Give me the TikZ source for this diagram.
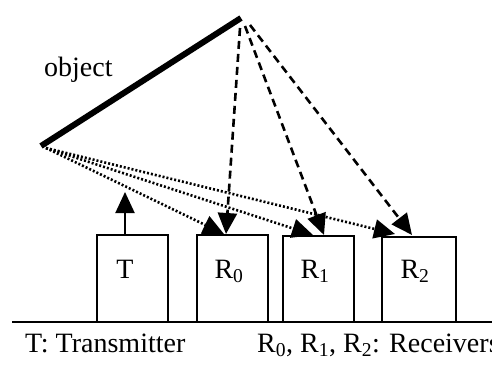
\documentclass[tikz,border=0pt]{standalone}
\usepackage{fontspec}
\setmainfont{Liberation Serif}
\usetikzlibrary{arrows.meta}
\begin{document}
\begin{tikzpicture}[x=1pt,y=-1pt,
  box/.style={draw,line width=2pt,minimum width=71pt,minimum height=87pt,inner sep=0pt},
  lab/.style={font=\fontsize{28}{32}\selectfont,inner sep=0pt,anchor=base},
  head/.style={-{Triangle[length=21pt,width=19pt]}},
  dashray/.style={head,line width=2.6pt,dash pattern=on 8pt off 5pt},
  dotray/.style={head,line width=2.6pt,dash pattern=on 2pt off 2pt},
  ground/.style={line width=2pt}]
\useasboundingbox (0,0) rectangle (492,377);
% object
\coordinate (apex) at (241,18);
\coordinate (foot) at (41,146);
\draw[line width=6pt] (foot) -- (apex);
\node[lab,anchor=base west] (objlab) at (44,77) {object};
% boxes
\node[box] (T) at (132.5,278.5) {};
\node[box] (R0) at (232.5,278.5) {};
\node[box,minimum height=86pt] (R1) at (318.5,279) {};
\node[box,minimum width=74pt,minimum height=85pt] (R2) at (419,279.5) {};
\node[lab] (Tl) at (125,278) {T};
\node[lab] (R0l) at (229,278) {R\textsubscript{0}};
\node[lab] (R1l) at (315,278) {R\textsubscript{1}};
\node[lab] (R2l) at (415,278) {R\textsubscript{2}};
% ground
\coordinate (gl) at (12,322);
\coordinate (gr) at (492,322);
\draw[ground] (gl) -- (gr);
% transmitter arrow
\coordinate (Ttop) at (125,235);
\coordinate (Ttip) at (125,192);
\draw[line width=2pt,head] (Ttop) -- (Ttip);
% reflection sources
\coordinate (d0) at (240,28);
\coordinate (d1) at (245,26);
\coordinate (d2) at (250,25);
\coordinate (s) at (46,148);
% targets
\coordinate (r0d) at (226,234);
\coordinate (r1d) at (324,235);
\coordinate (r2d) at (412,235);
\coordinate (r0s) at (224,234);
\coordinate (r1s) at (313,235);
\coordinate (r2s) at (395,234);
\draw[dashray] (d0) -- (r0d);
\draw[dashray] (d1) -- (r1d);
\draw[dashray] (d2) -- (r2d);
\draw[dotray] (s) -- (r0s);
\draw[dotray] (s) -- (r1s);
\draw[dotray] (s) -- (r2s);
% legend
\node[lab,anchor=base west] (leg1) at (25,352) {T: Transmitter};
\node[lab,anchor=base west] (leg2) at (257,352) {R\textsubscript{0}, R\textsubscript{1}, R\textsubscript{2}: Receivers};
\end{tikzpicture}
\end{document}
